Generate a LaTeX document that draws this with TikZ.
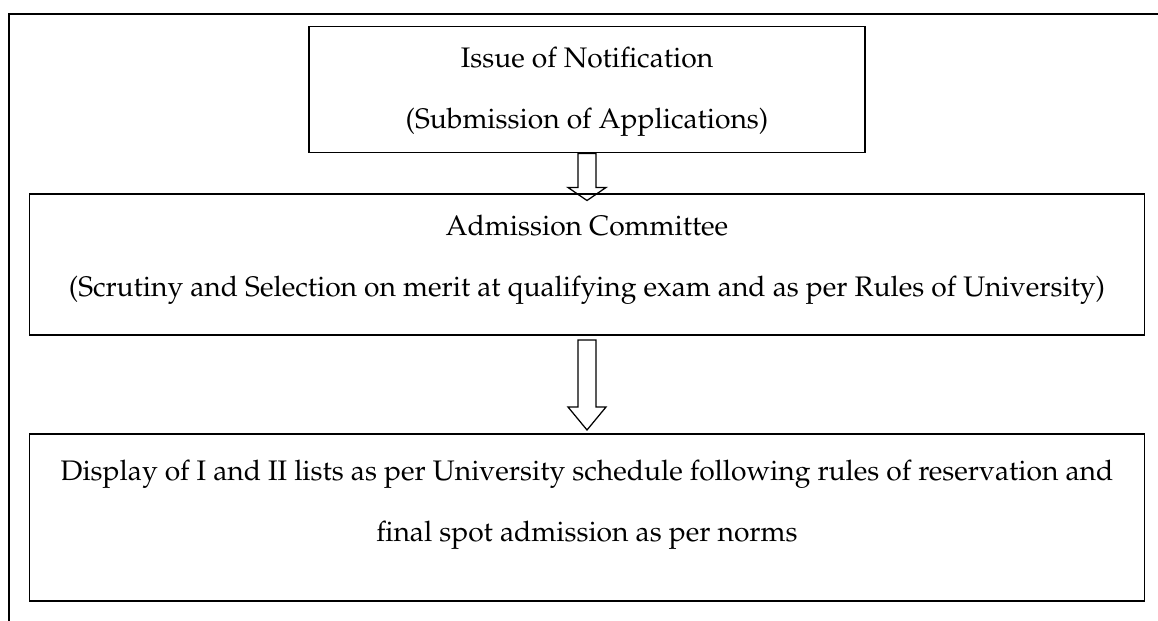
\documentclass[tikz,border=0pt]{standalone}
\usepackage[T1]{fontenc}
\usepackage{mathpazo}
\usepackage{tikz}
\usetikzlibrary{positioning,calc}

\begin{document}
\begin{tikzpicture}[
  box/.style={draw, line width=0.6pt, align=center, inner sep=0pt, font=\fontsize{11.3pt}{24.4pt}\selectfont},
  blockarrow/.style={draw, line width=0.5pt, line join=miter},
  frame/.style={line width=0.8pt}
]
\useasboundingbox (0,0) rectangle (463.2pt,-248.4pt);

% open frame, top and left side only
\draw[frame] (3.6pt,-248.4pt) |- (463.2pt,-5.6pt);

\node[box, minimum width=222.4pt, anchor=north] (notif) at (234.8pt,-10.4pt)
  {\rule{0pt}{16.4pt}Issue of Notification\\(Submission of Applications)\rule[-9.6pt]{0pt}{9.6pt}};
\node[box, minimum width=446pt, below=16pt of notif] (committee)
  {\rule{0pt}{16.4pt}Admission Committee\\(Scrutiny and Selection on merit at qualifying exam and as per Rules of University)\rule[-15.6pt]{0pt}{15.6pt}};
\node[box, minimum width=446pt, below=38.8pt of committee] (display)
  {\rule{0pt}{18.8pt}Display of I and II lists as per University schedule following rules of reservation and\\final spot admission as per norms\rule[-23.6pt]{0pt}{23.6pt}};

% hollow block arrows
\foreach \from/\to/\gap/\shaft/\head in {notif/committee/0pt/13.6pt/5.2pt, committee/display/1.6pt/26.8pt/9.2pt}
  \draw[blockarrow] ($(\to.north |- \from.south)+(0,-\gap)$) ++(-3.6pt,0) -- ++(0,-\shaft) -- ++(-4pt,0)
    -- ++(7.6pt,-\head) -- ++(7.6pt,\head) -- ++(-4pt,0) -- ++(0,\shaft) -- cycle;
\end{tikzpicture}
\end{document}
